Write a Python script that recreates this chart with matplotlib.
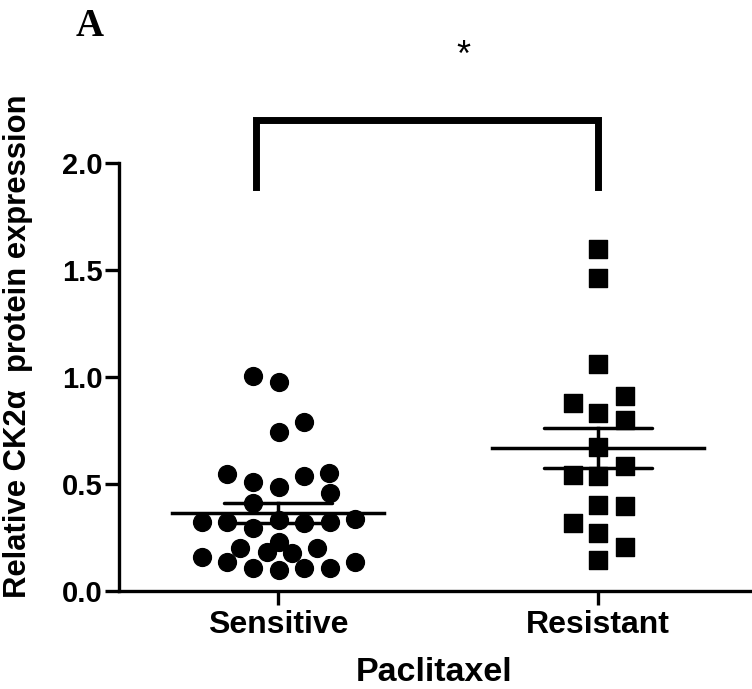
import numpy as np
import matplotlib.pyplot as plt

plt.rcParams['font.family'] = ['Liberation Sans', 'DejaVu Sans']

categories = ["Sensitive", "Resistant"]

# sensitive group (circles): jitter offset, value
sens_dx = [-0.077, 0.003, 0.082, 0.003, -0.16, -0.077, 0.003, 0.082, 0.159, 0.163,
           -0.077, -0.238, -0.16, -0.077, 0.003, 0.082, 0.163, 0.24, -0.238, -0.119,
           0.003, -0.035, 0.043, 0.121, -0.16, -0.077, 0.003, 0.082, 0.163, 0.24]
sens_y = [1.005, 0.978, 0.788, 0.741, 0.547, 0.511, 0.487, 0.539, 0.55, 0.457,
          0.41, 0.324, 0.324, 0.293, 0.332, 0.316, 0.324, 0.335, 0.16, 0.2,
          0.23, 0.184, 0.179, 0.2, 0.137, 0.106, 0.098, 0.106, 0.106, 0.137]

# resistant group (squares)
res_dx = [0.0, 0.0, 0.0, -0.077, 0.084, 0.0, 0.084, 0.0, -0.077, 0.0,
          0.084, 0.0, 0.084, -0.077, 0.0, 0.084, 0.0]
res_y = [1.597, 1.461, 1.061, 0.88, 0.911, 0.833, 0.799, 0.674, 0.542, 0.537,
         0.584, 0.402, 0.397, 0.316, 0.27, 0.207, 0.145]

# mean and SEM
means = [0.364, 0.668]
sems = [0.047, 0.094]

fig = plt.figure(figsize=(7.52, 6.89), dpi=100)
ax = fig.add_axes([0.1582, 0.1422, 0.839, 0.621])

ax.scatter(np.array(sens_dx) + 0, sens_y, marker="o", s=165, color="black", zorder=3)
ax.scatter(np.array(res_dx) + 1, res_y, marker="s", s=165, color="black", zorder=3)

for i, (m, s) in enumerate(zip(means, sems)):
    ax.plot([i - 0.33, i + 0.33], [m, m], color="black", lw=2.5, zorder=4)
    ax.plot([i - 0.17, i + 0.17], [m + s, m + s], color="black", lw=2.5,
            solid_capstyle="round", zorder=4)
    ax.plot([i - 0.17, i + 0.17], [m - s, m - s], color="black", lw=2.5,
            solid_capstyle="round", zorder=4)
    ax.plot([i, i], [m - s, m + s], color="black", lw=2.5, zorder=4)

# significance bracket
ax.plot([-0.069, -0.069, 1, 1], [1.89, 2.2, 2.2, 1.89], color="black",
        lw=5, clip_on=False, solid_joinstyle="miter")
ax.text(0.58, 2.5, "*", ha="center", va="center", fontsize=26)

ax.set_xlim(-0.497, 1.475)
ax.set_ylim(0, 2.0)
ax.set_yticks([0, 0.5, 1.0, 1.5, 2.0])
ax.set_yticklabels(["0.0", "0.5", "1.0", "1.5", "2.0"])
ax.set_xticks([0, 1])
ax.set_xticklabels(categories)

for side in ["top", "right"]:
    ax.spines[side].set_visible(False)
for side in ["left", "bottom"]:
    ax.spines[side].set_linewidth(2.4)

ax.tick_params(axis="both", width=2.4, length=10, pad=2)
ax.tick_params(axis="y", labelsize=21)
ax.tick_params(axis="x", labelsize=23, pad=4)
for lab in ax.get_xticklabels() + ax.get_yticklabels():
    lab.set_fontweight("bold")

ax.set_xlabel("Paclitaxel", fontsize=24.5, fontweight="bold", labelpad=12)
ax.set_ylabel("Relative CK2α  protein expression", fontsize=22.3, fontweight="bold")
ax.yaxis.set_label_coords(-0.136, 0.572)

fig.text(90 / 752, 1 - 27 / 689, "A", ha="center", va="center", fontsize=28,
         fontweight="bold", family="Liberation Serif")

fig.savefig("out.png", dpi=100)
